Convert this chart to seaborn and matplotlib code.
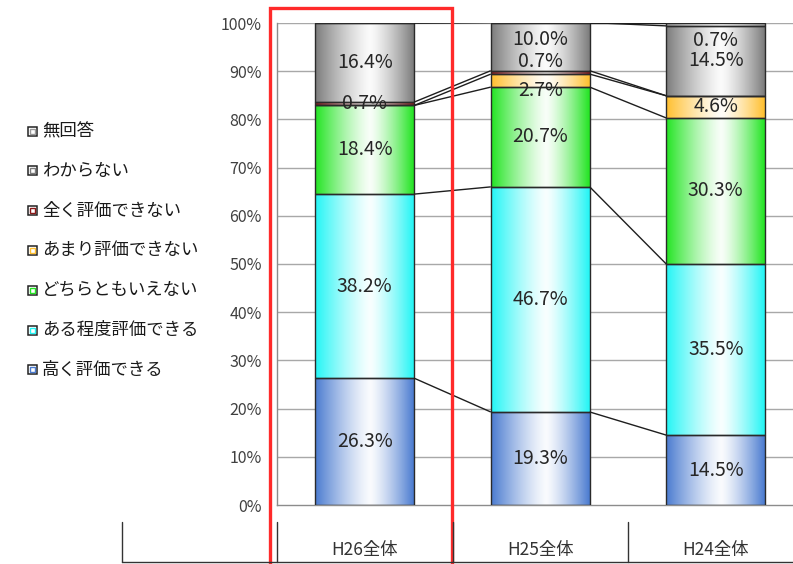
import numpy as np
import matplotlib
matplotlib.use("Agg")
import matplotlib.pyplot as plt
import matplotlib.colors as mcolors
import matplotlib.transforms as mtransforms
from matplotlib.lines import Line2D
from matplotlib.patches import Rectangle
import seaborn as sns

# ---------------- data ----------------
categories = ["H26全体", "H25全体", "H24全体"]
series = ["高く評価できる", "ある程度評価できる", "どちらともいえない",
          "あまり評価できない", "全く評価できない", "わからない", "無回答"]
takaku     = [26.3, 19.3, 14.5]
aruteido   = [38.2, 46.7, 35.5]
dochira    = [18.4, 20.7, 30.3]
amari      = [0.0, 2.7, 4.6]
mattaku    = [0.7, 0.7, 0.0]
wakaranai  = [16.4, 10.0, 14.5]
mukaito    = [0.0, 0.0, 0.7]
values = [takaku, aruteido, dochira, amari, mattaku, wakaranai, mukaito]
yticks = [0, 10, 20, 30, 40, 50, 60, 70, 80, 90, 100]

# ---------------- style ----------------
colors = ["#4a7bd0", "#22f5f5", "#22e422", "#ffbf2e", "#8a1818", "#7c7c7c", "#9a9a9a"]
label_shift = {(1, 5): 1.5, (1, 4): 2.2, (1, 3): -2.1, (2, 6): -3.3}

sns.set_theme(style="white")
plt.rcParams["font.family"] = ["Noto Sans CJK JP", "DejaVu Sans"]

W, H = 793, 564
fig = plt.figure(figsize=(W / 100, H / 100), dpi=100)
ax_left, ax_right, ax_top, ax_bot = 277, 803.5, 23, 505
ax = fig.add_axes([ax_left / W, 1 - ax_bot / H, (ax_right - ax_left) / W, (ax_bot - ax_top) / H])

bar_w = 0.564
bottoms = np.zeros(len(categories))
cum_tops = []
for vals, col in zip(values, colors):
    sns.barplot(x=categories, y=vals, order=categories, bottom=bottoms, width=bar_w,
                color=col, edgecolor="#2a2a2a", linewidth=1.0, errorbar=None,
                saturation=1, ax=ax, zorder=3)
    bottoms = bottoms + np.array(vals)
    cum_tops.append(bottoms.copy())

# gradient fills clipped to each bar patch
def grad_img(color):
    rgb = np.array(mcolors.to_rgb(color))
    t = np.linspace(0, 1, 256)
    c = 0.56
    d = np.where(t < c, (c - t) / c, (t - c) / (1 - c))
    wgt = np.clip(1 - d ** 1.3, 0, 1) * 0.97
    img = rgb[None, :] * (1 - wgt[:, None]) + np.ones(3)[None, :] * wgt[:, None]
    return img[None, :, :]

patches = list(ax.patches)
ncat = len(categories)
for idx, p in enumerate(patches):
    s = idx // ncat
    x0, y0 = p.get_x(), p.get_y()
    w, h = p.get_width(), p.get_height()
    if h <= 0:
        continue
    im = ax.imshow(grad_img(colors[s]), extent=(x0, x0 + w, y0, y0 + h),
                   aspect="auto", zorder=2.5, interpolation="bilinear")
    im.set_clip_path(p)
    p.set_facecolor("none")

# series lines
for k in range(len(series)):
    tops = cum_tops[k]
    for i in range(ncat - 1):
        ax.plot([i + bar_w / 2, i + 1 - bar_w / 2], [tops[i], tops[i + 1]],
                color="#1e1e1e", lw=1.0, zorder=4, solid_capstyle="butt")

# data labels
for s, vals in enumerate(values):
    for i, v in enumerate(vals):
        if v <= 0:
            continue
        base = cum_tops[s][i] - v
        y = base + v / 2 + label_shift.get((i, s), 0)
        ax.text(i, y, f"{v:.1f}%", ha="center", va="center", fontsize=14,
                color="#262626", zorder=6)

ax.set_xlim(-0.5, ncat - 0.5)
ax.set_ylim(0, 100)
ax.set_yticks(yticks)
ax.set_yticklabels([f"{t}%" for t in yticks])
ax.tick_params(axis="y", length=0, pad=11, labelsize=11.5, labelcolor="#404040")
ax.tick_params(axis="x", length=0, pad=26, labelsize=12.5, labelcolor="#333333")
ax.set_xlabel("")
ax.set_ylabel("")
for t in yticks[1:]:
    ax.axhline(t, color="#a8a8a8", lw=1.0, zorder=1)
for sp in ["top", "right"]:
    ax.spines[sp].set_visible(False)
ax.spines["left"].set_color("#8c8c8c")
ax.spines["bottom"].set_color("#8c8c8c")
ax.spines["left"].set_linewidth(1.0)
ax.spines["bottom"].set_linewidth(1.0)

# category table lines below the axis
blend = mtransforms.blended_transform_factory(ax.transData, fig.transFigure)
y_a, y_b = 1 - 522 / H, 1 - 562 / H
for xb in [-0.5, 0.5, 1.5]:
    fig.add_artist(Line2D([xb, xb], [y_a, y_b], transform=blend, color="#333333", lw=1.0))
fig.add_artist(Line2D([122 / W, 122 / W], [y_a, y_b], color="#333333", lw=1.0))
fig.add_artist(Line2D([122 / W, 1.0], [y_b, y_b], color="#333333", lw=1.0))

# legend (manual)
for j, s in enumerate(reversed(range(len(series)))):
    yc = 1 - (131 + 39.8 * j) / H
    sq = 9
    fig.add_artist(Rectangle((28 / W, yc - sq / 2 / H), sq / W, sq / H,
                             facecolor="white", edgecolor="#222222", lw=1.1))
    fig.add_artist(Rectangle((30 / W, yc - 2.5 / H), 5 / W, 5 / H,
                             facecolor="white", edgecolor=colors[s], lw=1.0))
    fig.text(42 / W, yc, series[s], ha="left", va="center", fontsize=12.5,
             color="#1a1a1a")

# red highlight box
fig.add_artist(Rectangle((270 / W, -0.02), (452 - 270) / W, 1 - 8 / H + 0.02,
                         fill=False, edgecolor="#ff2a2a", lw=2.4))

fig.savefig("out.png", dpi=100)
